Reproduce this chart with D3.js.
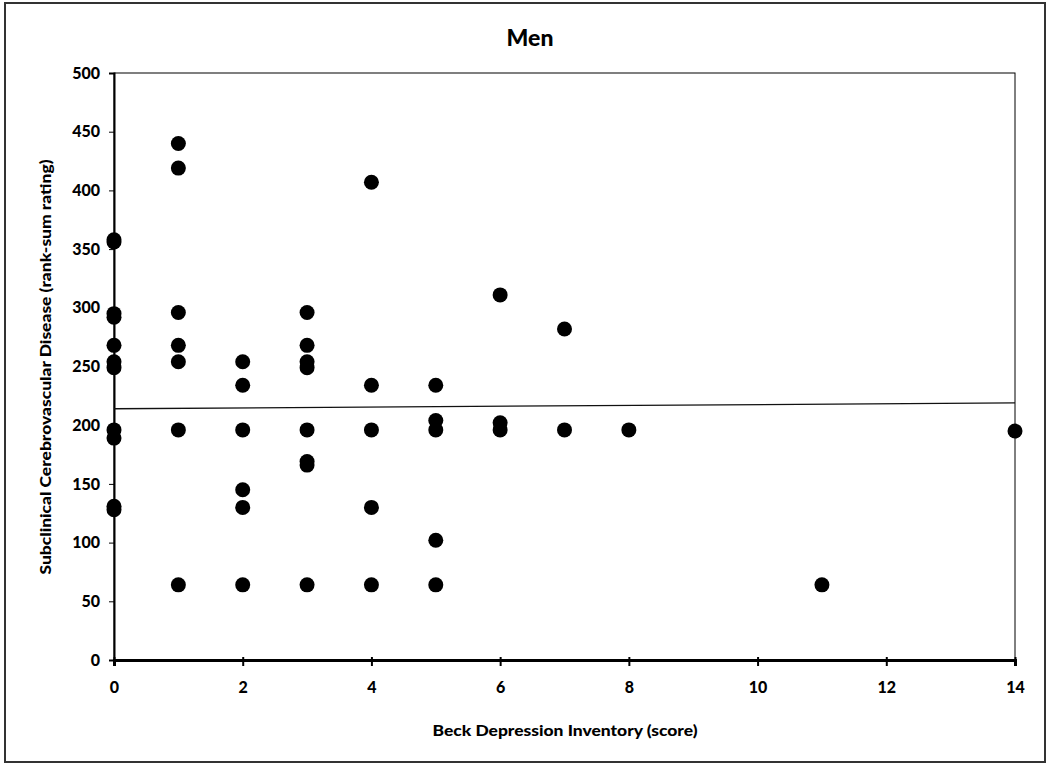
<!DOCTYPE html>
<html>
<head>
<meta charset="utf-8">
<script src="https://cdn.jsdelivr.net/npm/d3@7"></script>
<style>
  body { margin: 0; background: #fff; }
  text { font-family: Lato, "Open Sans", sans-serif; font-weight: 900; fill: #000; }
</style>
</head>
<body>
<div id="chart-ctn"></div>
<script>
// Beck Depression Inventory score of each man
let bdiScores = [
    0, 0, 0, 0, 0, 0, 0, 0, 0, 0, 0,
    1, 1, 1, 1, 1, 1, 1,
    2, 2, 2, 2, 2, 2,
    3, 3, 3, 3, 3, 3, 3, 3,
    4, 4, 4, 4, 4,
    5, 5, 5, 5, 5,
    6, 6, 6,
    7, 7,
    8,
    11,
    14
];
// Subclinical cerebrovascular disease rank-sum rating, same order
let diseaseRatings = [
    358, 356, 295, 292, 268, 254, 249, 196, 189, 131, 128,
    440, 419, 296, 268, 254, 196, 64,
    254, 234, 196, 145, 130, 64,
    296, 268, 254, 249, 196, 169, 166, 64,
    407, 234, 196, 130, 64,
    234, 204, 196, 102, 64,
    311, 202, 196,
    282, 196,
    196,
    64,
    195
];
// Linear trend line end points (x, y)
let trendX = [0, 14];
let trendY = [214, 219];

let xTicks = [0, 2, 4, 6, 8, 10, 12, 14];
let yTicks = [0, 50, 100, 150, 200, 250, 300, 350, 400, 450, 500];

let width = 1050;
let height = 767;
let margin = { left: 114, right: 35, top: 73, bottom: 107 };

function drawScatter() {
    let svg = d3
        .select("#chart-ctn")
        .append("svg")
        .attr("width", width)
        .attr("height", height);

    // outer frame
    svg.append("rect")
        .attr("x", 5)
        .attr("y", 3)
        .attr("width", 1040)
        .attr("height", 759)
        .attr("fill", "none")
        .attr("stroke", "#333")
        .attr("stroke-width", 2);

    let x = d3.scaleLinear().domain([0, 14]).range([margin.left, width - margin.right]);
    let y = d3.scaleLinear().domain([0, 500]).range([height - margin.bottom, margin.top]);

    // plot box (top and right sides)
    svg.append("rect")
        .attr("x", x(0))
        .attr("y", y(500))
        .attr("width", x(14) - x(0))
        .attr("height", y(0) - y(500))
        .attr("fill", "none")
        .attr("stroke", "#000")
        .attr("stroke-width", 1);

    // y axis
    let yAxis = svg.append("g")
        .attr("transform", `translate(${x(0)},0)`)
        .call(d3.axisLeft(y).tickValues(yTicks).tickSize(5).tickPadding(9));
    yAxis.select(".domain").attr("stroke-width", 2);
    yAxis.selectAll("text").style("font-size", "16px");

    // x axis
    let xAxis = svg.append("g")
        .attr("transform", `translate(0,${y(0)})`)
        .call(d3.axisBottom(x).tickValues(xTicks).tickSize(6).tickPadding(16));
    xAxis.select(".domain").attr("stroke-width", 3);
    xAxis.selectAll("line").attr("stroke-width", 2).attr("y1", -3);
    xAxis.selectAll("text").style("font-size", "16px");

    // trend line
    svg.append("line")
        .attr("x1", x(trendX[0]))
        .attr("y1", y(trendY[0]))
        .attr("x2", x(trendX[1]))
        .attr("y2", y(trendY[1]))
        .attr("stroke", "#111")
        .attr("stroke-width", 1.3);

    // points
    let points = bdiScores.map((d, i) => ({ score: d, rating: diseaseRatings[i] }));
    svg.append("g")
        .selectAll("circle")
        .data(points)
        .join("circle")
        .attr("cx", (d) => x(d.score))
        .attr("cy", (d) => y(d.rating))
        .attr("r", 7.5)
        .attr("fill", "#000");

    // title
    svg.append("text")
        .attr("x", 530)
        .attr("y", 46)
        .attr("text-anchor", "middle")
        .style("font-size", "23px")
        .text("Men");

    // axis titles
    svg.append("text")
        .attr("x", 565)
        .attr("y", 736)
        .attr("text-anchor", "middle")
        .attr("textLength", 265)
        .attr("lengthAdjust", "spacingAndGlyphs")
        .style("font-size", "15px")
        .text("Beck Depression Inventory (score)");

    svg.append("text")
        .attr("transform", "translate(51,367) rotate(-90)")
        .attr("text-anchor", "middle")
        .attr("textLength", 415)
        .attr("lengthAdjust", "spacingAndGlyphs")
        .style("font-size", "15px")
        .text("Subclinical Cerebrovascular Disease (rank-sum rating)");
}

drawScatter();
</script>
</body>
</html>
